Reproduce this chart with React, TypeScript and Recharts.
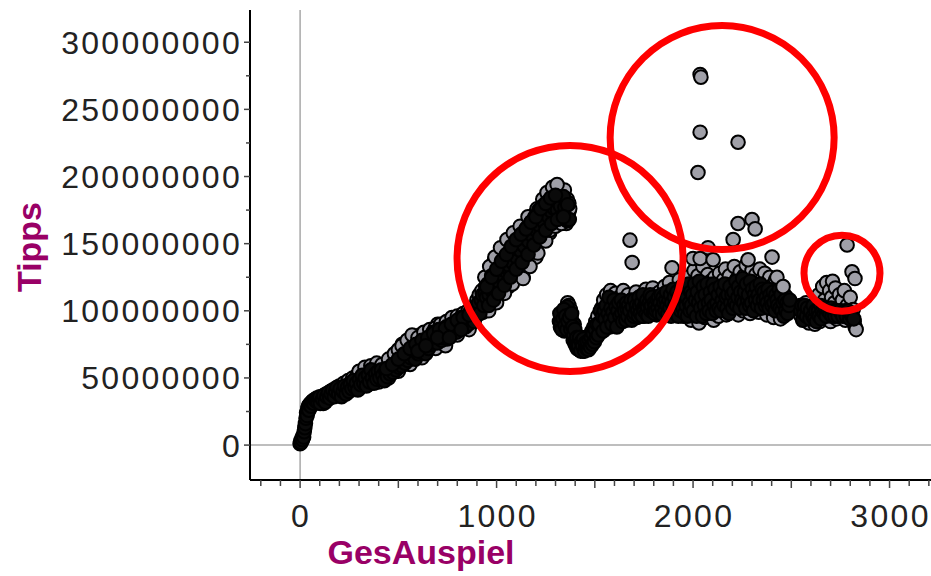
import React from 'react';
import { ScatterChart, Scatter, XAxis, YAxis, ReferenceLine, ReferenceDot } from 'recharts';

// GesAuspiel (x) vs Tipps (y, in millions)
const rampStart: [number, number][] = [
  [0, 1], [3, 3], [6, 2], [9, 5], [12, 4], [15, 7], [18, 6], [21, 10], [24, 13], [27, 16],
  [30, 20], [33, 24], [36, 22], [39, 27], [42, 29], [45, 26], [48, 30], [52, 31], [56, 29],
  [60, 32], [65, 33], [70, 31], [75, 34], [80, 33], [85, 35], [90, 32], [95, 35], [100, 36],
];

const steadyClimb: [number, number][] = [
  [105, 33], [110, 36], [118, 31], [125, 35], [132, 38], [140, 34], [148, 37], [155, 40], [162, 36],
  [170, 39], [178, 42], [185, 37], [192, 41], [200, 44], [208, 39], [215, 43], [222, 46], [230, 41],
  [238, 45], [245, 48], [252, 43], [260, 47], [268, 50], [275, 45], [282, 49], [290, 52], [298, 47],
  [300, 42], [305, 51], [312, 55], [320, 49], [328, 53], [335, 57], [342, 50], [345, 45], [350, 54],
  [358, 52], [365, 48], [372, 55], [380, 51], [388, 56], [395, 53], [400, 47], [402, 58], [410, 54],
  [418, 50], [425, 57], [432, 53], [440, 59], [448, 55], [450, 50], [455, 60], [462, 57], [470, 62],
  [478, 56], [485, 63], [492, 59], [500, 66], [500, 55], [508, 61], [515, 68], [520, 75], [522, 63],
  [530, 70], [538, 65], [545, 72], [552, 67], [560, 74], [560, 60], [568, 69], [575, 66], [582, 73],
  [590, 70], [598, 76], [605, 72], [610, 82], [612, 79], [620, 74], [620, 65], [628, 70], [635, 77],
  [642, 81], [650, 75], [658, 79], [665, 83], [672, 77], [680, 81], [688, 85], [690, 72], [695, 78],
  [700, 90], [702, 84], [710, 80], [718, 87], [725, 82], [732, 89], [740, 84], [740, 74], [748, 79],
  [755, 86], [762, 91], [770, 94], [770, 85], [778, 88], [785, 93], [792, 87], [800, 90], [800, 82],
  [808, 95], [815, 89], [822, 92], [830, 97], [838, 91], [845, 95], [852, 99], [860, 93], [860, 86],
  [868, 97], [875, 101], [882, 95], [890, 99],
  [300, 55], [330, 58], [360, 59], [390, 61], [417, 60], [450, 64], [480, 68], [500, 71], [519, 74],
  [545, 78], [570, 82], [600, 80], [630, 84], [660, 86], [687, 87], [715, 90], [745, 92], [773, 95],
  [800, 96], [830, 98], [855, 100], [875, 102],
];

const steadyClimbCore: [number, number][] = [
  [103, 31], [114, 34], [121, 37], [128, 32], [136, 36], [144, 39], [151, 35], [158, 38], [166, 41],
  [174, 36], [181, 40], [188, 43], [196, 38], [204, 42], [211, 36], [219, 40], [226, 44], [234, 38],
  [241, 43], [249, 40], [256, 45], [264, 42], [271, 48], [279, 43], [286, 46], [294, 41], [302, 49],
  [309, 45], [316, 52], [324, 46], [331, 50], [338, 44], [347, 52], [354, 47], [361, 56], [368, 50],
  [376, 46], [384, 53], [391, 49], [398, 55], [406, 50], [414, 56], [421, 52], [429, 48], [436, 55],
  [444, 51], [452, 57], [459, 53], [466, 59], [474, 54], [481, 60], [489, 56], [496, 62], [504, 58],
  [511, 64], [518, 59], [526, 66], [534, 61], [541, 68], [549, 63], [556, 70], [564, 65], [571, 71],
  [579, 68], [586, 64], [594, 72], [601, 68], [608, 75], [616, 70], [624, 77], [631, 73], [639, 68],
  [646, 78], [654, 72], [661, 80], [669, 75], [676, 84], [684, 78], [692, 82], [698, 76], [706, 86],
  [714, 83], [721, 78], [729, 85], [736, 80], [744, 88], [751, 83], [759, 88], [766, 82], [774, 90],
  [781, 86], [789, 91], [796, 84], [804, 92], [811, 88], [819, 95], [826, 89], [834, 94], [841, 88],
  [849, 96], [856, 90], [864, 99], [871, 94], [879, 98], [886, 92],
  [440, 57], [470, 60], [500, 64], [530, 68], [560, 72], [590, 75], [620, 78], [650, 80], [680, 83],
  [710, 86], [740, 87], [770, 90], [800, 93], [830, 95], [860, 97], [600, 70], [640, 74], [700, 80],
  [760, 80], [820, 86],
];

const steepClimb: [number, number][] = [
  [895, 96], [900, 108], [905, 101], [912, 112], [918, 104], [925, 115], [930, 99], [938, 110],
  [945, 118], [950, 106], [958, 114], [965, 124], [970, 110], [978, 120], [985, 128], [990, 138],
  [990, 115], [998, 125], [1000, 110], [1005, 133], [1010, 119], [1018, 129], [1025, 137], [1030, 122],
  [1038, 132], [1045, 141], [1050, 150], [1050, 127], [1058, 137], [1060, 118], [1065, 146],
  [1070, 131], [1078, 140], [1085, 149], [1090, 135], [1098, 144], [1105, 153], [1110, 139],
  [1118, 148], [1120, 160], [1125, 157], [1130, 143], [1135, 125], [1138, 152], [1145, 161],
  [1150, 147], [1158, 156], [1165, 165], [1170, 150], [1178, 159], [1185, 168], [1190, 154],
  [1198, 163], [1200, 140], [1200, 173], [1205, 172], [1210, 158], [1218, 167], [1225, 176],
  [1232, 161], [1240, 170], [1248, 180], [1255, 186], [1255, 165], [1262, 174], [1270, 158],
  [1270, 184], [1278, 168], [1285, 178], [1292, 188], [1300, 171], [1308, 191], [1315, 180],
  [1320, 168], [1328, 186], [1330, 165], [1335, 175], [1342, 181], [1345, 190], [1350, 172],
  [1355, 165], [1358, 178], [1360, 183], [1365, 170], [1368, 174], [1372, 176],
  [940, 125], [965, 133], [992, 140], [1020, 147], [1053, 153], [1085, 158], [1120, 163], [1160, 170],
  [1206, 176], [1235, 183], [1257, 188], [1285, 192], [1308, 194],
  [960, 100], [1000, 106], [1040, 113], [1080, 120], [1135, 124], [1170, 133], [1210, 143], [1250, 152],
  [1272, 160], [1300, 163], [1330, 165], [1360, 167], [1368, 180],
];

const steepClimbCore: [number, number][] = [
  [898, 102], [908, 106], [915, 98], [922, 108], [928, 112], [935, 104], [942, 113], [948, 110],
  [955, 120], [962, 112], [968, 117], [975, 126], [982, 114], [988, 122], [995, 118], [1002, 128],
  [1008, 124], [1015, 121], [1022, 131], [1028, 127], [1035, 135], [1042, 130], [1048, 133],
  [1055, 142], [1062, 134], [1068, 139], [1075, 146], [1082, 136], [1088, 142], [1095, 150],
  [1102, 140], [1108, 146], [1115, 154], [1122, 145], [1128, 150], [1135, 158], [1142, 148],
  [1148, 155], [1155, 162], [1162, 152], [1168, 158], [1175, 166], [1182, 156], [1188, 162],
  [1195, 170], [1202, 160], [1208, 166], [1215, 175], [1222, 163], [1228, 170], [1235, 178],
  [1242, 166], [1250, 174], [1258, 181], [1265, 170], [1272, 178], [1280, 174], [1288, 182],
  [1295, 176], [1302, 184], [1310, 175], [1318, 183], [1325, 178], [1332, 170], [1340, 185],
  [1348, 177], [1352, 168], [1362, 179], [1370, 168],
  [950, 118], [975, 125], [1000, 131], [1025, 137], [1050, 142], [1075, 148], [1100, 153], [1125, 157],
  [1150, 161], [1175, 166], [1200, 170], [1225, 176], [1250, 180], [1275, 184], [1300, 186],
  [960, 104], [985, 108], [1010, 113], [1040, 119], [1070, 125], [1100, 131], [1130, 136], [1160, 142],
  [1190, 149], [1220, 155], [1250, 160], [1280, 165], [1310, 168], [1340, 170],
];

const dropHook: [number, number][] = [
  [1350, 100], [1362, 106], [1368, 104], [1375, 101], [1335, 98], [1505, 92], [1515, 96],
];

const dropHookCore: [number, number][] = [
  [1320, 92], [1325, 88], [1330, 95], [1340, 90], [1345, 85], [1355, 93], [1360, 103], [1365, 96],
  [1370, 88], [1380, 94], [1385, 84], [1390, 78], [1395, 90], [1400, 75], [1405, 82], [1410, 72],
  [1415, 78], [1420, 71], [1425, 76], [1430, 73], [1435, 80], [1440, 70], [1445, 75], [1450, 72],
  [1455, 78], [1460, 73], [1465, 80], [1470, 74], [1475, 82], [1480, 76], [1485, 85], [1490, 78],
  [1495, 88], [1500, 80], [1510, 84], [1520, 86],
  [1322, 98], [1328, 91], [1332, 86], [1338, 94], [1342, 101], [1348, 89], [1352, 96], [1358, 86],
  [1364, 92], [1372, 95], [1378, 86], [1382, 98], [1388, 88], [1392, 82], [1398, 86], [1402, 78],
  [1408, 80], [1412, 75], [1418, 74], [1422, 80], [1428, 70], [1432, 77], [1438, 74], [1442, 79],
  [1448, 70], [1452, 76], [1458, 72], [1462, 77], [1468, 71], [1472, 78], [1478, 73], [1482, 80],
  [1488, 75], [1492, 83], [1498, 77], [1502, 86], [1508, 80], [1512, 90], [1518, 82],
];

const plateau: [number, number][] = [
  [1525, 95], [1530, 84], [1535, 102], [1540, 90], [1545, 108], [1550, 86], [1555, 98], [1560, 112],
  [1565, 92], [1570, 104], [1575, 88], [1580, 115], [1585, 96], [1590, 107], [1595, 90], [1600, 101],
  [1605, 113], [1610, 94], [1615, 105], [1620, 98], [1625, 110], [1630, 92], [1640, 103], [1645, 115],
  [1650, 96], [1655, 108], [1660, 99], [1670, 112], [1675, 94], [1680, 104], [1690, 97], [1695, 109],
  [1700, 101], [1710, 114], [1715, 95], [1720, 106], [1730, 99], [1735, 111], [1740, 103], [1750, 96],
  [1755, 108], [1760, 116], [1770, 100], [1775, 110], [1780, 98], [1790, 105], [1795, 117], [1800, 101],
  [1810, 112], [1815, 97], [1820, 106], [1830, 114], [1835, 100], [1840, 108], [1850, 103], [1855, 118],
  [1860, 98], [1870, 110], [1875, 104], [1880, 121], [1890, 100], [1895, 112], [1900, 106], [1910, 115],
  [1915, 99], [1920, 109], [1930, 123], [1935, 103], [1940, 112], [1950, 96], [1955, 118], [1960, 107],
  [1970, 125], [1975, 101], [1980, 113], [1990, 93], [1995, 120], [2000, 108], [2005, 130], [2010, 98],
  [2015, 116], [2020, 104], [2025, 126], [2030, 91], [2035, 112], [2040, 120], [2045, 100], [2050, 133],
  [2055, 108], [2060, 95], [2065, 118], [2070, 104], [2075, 127], [2080, 112], [2085, 97], [2090, 122],
  [2095, 106], [2100, 115], [2105, 93], [2110, 125], [2115, 102], [2120, 110], [2125, 119], [2130, 96],
  [2135, 128], [2140, 107], [2145, 114], [2150, 100], [2155, 123], [2160, 109], [2165, 131], [2170, 97],
  [2175, 117], [2180, 104], [2185, 126], [2190, 112], [2195, 99], [2200, 120], [2205, 108], [2210, 133],
  [2215, 102], [2220, 116], [2225, 124], [2230, 97], [2235, 112], [2240, 129], [2245, 105], [2250, 119],
  [2255, 100], [2260, 126], [2265, 110], [2270, 134], [2275, 103], [2280, 117], [2285, 125], [2290, 98],
  [2295, 113], [2300, 130], [2305, 107], [2310, 121], [2315, 101], [2320, 127], [2325, 111], [2330, 118],
  [2335, 99], [2340, 131], [2345, 106], [2350, 123], [2355, 112], [2360, 102], [2365, 128], [2370, 116],
  [2375, 97], [2380, 121], [2385, 108], [2390, 125], [2395, 101], [2400, 114], [2405, 119], [2410, 95],
  [2415, 110], [2420, 123], [2425, 104], [2430, 117], [2435, 99], [2440, 112], [2445, 94], [2450, 108],
  [2455, 118], [2460, 101], [2465, 112], [2470, 105], [2475, 110], [2480, 103], [2485, 108],
];

const plateauCore: [number, number][] = [
  [1522, 90], [1528, 100], [1538, 96], [1542, 85], [1548, 100], [1552, 94], [1558, 104], [1562, 88],
  [1568, 98], [1572, 110], [1578, 94], [1582, 102], [1588, 90], [1592, 99], [1598, 108], [1602, 95],
  [1608, 103], [1612, 88], [1618, 100], [1622, 106], [1628, 96], [1635, 108], [1638, 98], [1642, 92],
  [1648, 104], [1652, 100], [1658, 93], [1662, 106], [1665, 101], [1668, 96], [1672, 104], [1678, 100],
  [1685, 108], [1688, 93], [1692, 103], [1698, 96], [1702, 108], [1705, 98], [1712, 104], [1718, 100],
  [1722, 96], [1725, 110], [1728, 104], [1732, 98], [1738, 106], [1742, 96], [1745, 112], [1748, 102],
  [1752, 100], [1758, 105], [1762, 98], [1765, 108], [1768, 103], [1772, 96], [1778, 106], [1782, 112],
  [1785, 100], [1788, 104], [1792, 110], [1798, 99], [1802, 106], [1805, 98], [1808, 104], [1812, 100],
  [1818, 108], [1822, 102], [1825, 110], [1828, 98], [1832, 106], [1838, 112], [1842, 102], [1845, 97],
  [1848, 110], [1852, 106], [1858, 100], [1862, 108], [1865, 114], [1868, 104], [1872, 98], [1878, 108],
  [1882, 102], [1885, 112], [1888, 96], [1892, 106], [1898, 116], [1902, 100], [1905, 110], [1908, 104],
  [1912, 98], [1918, 114], [1922, 104], [1925, 96], [1928, 110], [1932, 106], [1938, 100], [1942, 118],
  [1945, 108], [1948, 102], [1952, 112], [1958, 98], [1962, 116], [1965, 104], [1968, 110], [1972, 96],
  [1978, 120], [1982, 106], [1985, 100], [1988, 114], [1992, 104], [1998, 112], [2002, 100], [2008, 120],
  [2012, 108], [2018, 96], [2022, 114], [2028, 106], [2032, 122], [2038, 102], [2042, 110], [2048, 96],
  [2052, 118], [2058, 104], [2062, 112], [2068, 98], [2072, 120], [2078, 106], [2082, 100], [2088, 114],
  [2092, 108], [2098, 98], [2102, 120], [2108, 104], [2112, 116], [2118, 100], [2122, 106], [2128, 112],
  [2132, 102], [2138, 118], [2142, 100], [2148, 108], [2152, 114], [2158, 104], [2162, 120], [2168, 110],
  [2172, 102], [2178, 112], [2182, 98], [2188, 118], [2192, 106], [2198, 112], [2202, 102], [2208, 114],
  [2212, 106], [2218, 122], [2222, 104], [2228, 110], [2232, 118], [2238, 102], [2242, 114], [2248, 108],
  [2252, 124], [2258, 106], [2262, 114], [2268, 102], [2272, 120], [2278, 108], [2282, 112], [2288, 104],
  [2292, 122], [2298, 106], [2302, 116], [2308, 100], [2312, 112], [2318, 108], [2322, 118], [2328, 104],
  [2332, 112], [2338, 108], [2342, 120], [2348, 102], [2352, 116], [2358, 108], [2362, 114], [2368, 104],
  [2372, 110], [2378, 106], [2382, 116], [2388, 102], [2392, 112], [2398, 108], [2402, 104], [2408, 114],
  [2412, 106], [2418, 100], [2422, 112], [2428, 108], [2432, 104], [2438, 116], [2442, 102], [2448, 112],
  [2452, 100], [2458, 106], [2462, 96], [2468, 108], [2472, 100], [2478, 106], [2482, 98], [2488, 104],
  [2492, 108],
];

const lateCluster: [number, number][] = [
  [2545, 104], [2550, 96], [2560, 100], [2570, 93], [2575, 106], [2585, 98], [2590, 91], [2600, 102],
  [2605, 95], [2615, 99], [2620, 90], [2630, 104], [2635, 96], [2640, 112], [2645, 92], [2655, 100],
  [2660, 118], [2665, 95], [2670, 108], [2680, 121], [2685, 97], [2690, 104], [2695, 115], [2700, 92],
  [2705, 110], [2710, 122], [2715, 99], [2720, 106], [2725, 117], [2730, 94], [2740, 102], [2745, 112],
  [2750, 96], [2760, 108], [2765, 100], [2770, 115], [2775, 93], [2785, 104], [2790, 98], [2800, 110],
  [2805, 95], [2815, 101], [2820, 92], [2825, 88], [2830, 86],
];

const lateClusterCore: [number, number][] = [
  [2548, 100], [2555, 104], [2558, 93], [2565, 98], [2568, 104], [2578, 96], [2582, 102], [2595, 94],
  [2598, 100], [2610, 96], [2612, 104], [2618, 94], [2625, 100], [2628, 92], [2638, 100], [2642, 96],
  [2650, 104], [2652, 94], [2658, 100], [2668, 98], [2672, 102], [2678, 96], [2688, 100], [2698, 98],
  [2702, 102], [2708, 96], [2718, 100], [2722, 96], [2732, 100], [2738, 96], [2748, 100], [2755, 98],
  [2762, 96], [2772, 100], [2780, 96], [2788, 100], [2798, 94], [2802, 98], [2810, 96], [2818, 94],
];

const outliers: [number, number][] = [
  [1679, 152.6], [1690, 136], [1893, 132], [2000, 139], [2036, 139], [2076, 147], [2102, 138],
  [2204, 153], [2229, 165], [2280, 138], [2300, 168], [2316, 161], [2402, 140], [2427, 125],
  [2458, 118], [2025, 203], [2036, 233], [2229, 225.5], [2036, 276], [2040, 274],
  [2784, 149], [2809, 129], [2824, 124],
];

// red annotation rings: centre (x, y in millions), radius in px
const rings = [
  { x: 1374, y: 139, r: 113 },
  { x: 2148, y: 229, r: 112 },
  { x: 2758, y: 128, r: 38 },
];

const xTicks = [-200, -100, 0, 100, 200, 300, 400, 500, 600, 700, 800, 900, 1000, 1100, 1200, 1300,
  1400, 1500, 1600, 1700, 1800, 1900, 2000, 2100, 2200, 2300, 2400, 2500, 2600, 2700, 2800, 2900, 3000,
  3100, 3200];
const yTicksM = [0, 25, 50, 75, 100, 125, 150, 175, 200, 225, 250, 275, 300];

const M = 1000000;
const toRows = (pts: [number, number][]) => pts.map(([x, y]) => ({ x, y: y * M }));
// where the draws pile up the outlines merge into solid black
const edgeData = toRows([...steadyClimb, ...steepClimb, ...plateau, ...lateCluster, ...dropHook]);
const coreData = toRows([...rampStart, ...steadyClimbCore, ...steepClimbCore, ...dropHookCore, ...plateauCore, ...lateClusterCore]);
const outlierData = toRows(outliers);

const AXIS_X = 250;
const AXIS_Y = 480;
const tickFont = { fontFamily: '"Liberation Sans", Arial, sans-serif', fontSize: 32, letterSpacing: 2.3, fill: '#222' };

const XTick = (props: any) => {
  const { x, payload } = props;
  const v = payload.value;
  const major = v % 500 === 0;
  return (
    <g>
      <line x1={x} x2={x} y1={AXIS_Y} y2={AXIS_Y + (major ? 8 : 6)} stroke="#444" strokeWidth={1.5} />
      {v % 1000 === 0 && (
        <text x={x + 1} y={527} textAnchor="middle" {...tickFont}>{v}</text>
      )}
    </g>
  );
};

const YTick = (props: any) => {
  const { y, payload } = props;
  const v = payload.value;
  const major = v % (50 * M) === 0;
  return (
    <g>
      <line x1={AXIS_X - (major ? 6 : 4)} x2={AXIS_X} y1={y} y2={y} stroke="#444" strokeWidth={1.5} />
      {major && (
        <text x={242} y={y + 11.5} textAnchor="end" {...tickFont}>{v.toFixed(0)}</text>
      )}
    </g>
  );
};

const titleStyle = { fontFamily: '"Liberation Sans", Arial, sans-serif', fontSize: 34, fontWeight: 700, fill: '#990066' };

const YTitle = () => (
  <text x={41} y={247} transform="rotate(-90 41 247)" textAnchor="middle" {...titleStyle}>Tipps</text>
);

const XTitle = () => (
  <text x={421} y={564} textAnchor="middle" {...titleStyle}>GesAuspiel</text>
);

const GrayDot = (props: any) => (
  <circle cx={props.cx} cy={props.cy} r={6.8} fill="#a0a0a8" stroke="#000" strokeWidth={2} />
);

const DarkDot = (props: any) => (
  <circle cx={props.cx} cy={props.cy} r={6.8} fill="#0a0a0a" stroke="#000" strokeWidth={2} />
);

export default function App() {
  return (
    <div style={{ position: 'absolute', left: 0, top: 0, width: 931, height: 576, background: '#fff' }}>
      <ScatterChart width={931} height={576} margin={{ top: 10, right: 0, bottom: 36, left: 0 }}>
        <XAxis
          type="number"
          dataKey="x"
          domain={[-255, 3211]}
          allowDataOverflow
          ticks={xTicks}
          interval={0}
          height={60}
          tick={XTick}
          tickLine={false}
          axisLine={{ stroke: '#000', strokeWidth: 2 }}
          label={<XTitle />}
        />
        <YAxis
          type="number"
          dataKey="y"
          domain={[-26 * M, 324 * M]}
          allowDataOverflow
          ticks={yTicksM.map((t) => t * M)}
          interval={0}
          width={250}
          tick={YTick}
          tickLine={false}
          axisLine={{ stroke: '#000', strokeWidth: 2 }}
          label={<YTitle />}
        />
        <ReferenceLine x={0} stroke="#a8a8a8" strokeWidth={1.5} />
        <ReferenceLine y={0} stroke="#a8a8a8" strokeWidth={1.5} />
        <Scatter data={edgeData} shape={GrayDot} isAnimationActive={false} />
        <Scatter data={coreData} shape={DarkDot} isAnimationActive={false} />
        <Scatter data={outlierData} shape={GrayDot} isAnimationActive={false} />
        {rings.map((r, i) => (
          <ReferenceDot key={i} x={r.x} y={r.y * M} r={r.r} fill="none" stroke="#ff0000" strokeWidth={7} />
        ))}
      </ScatterChart>
    </div>
  );
}
